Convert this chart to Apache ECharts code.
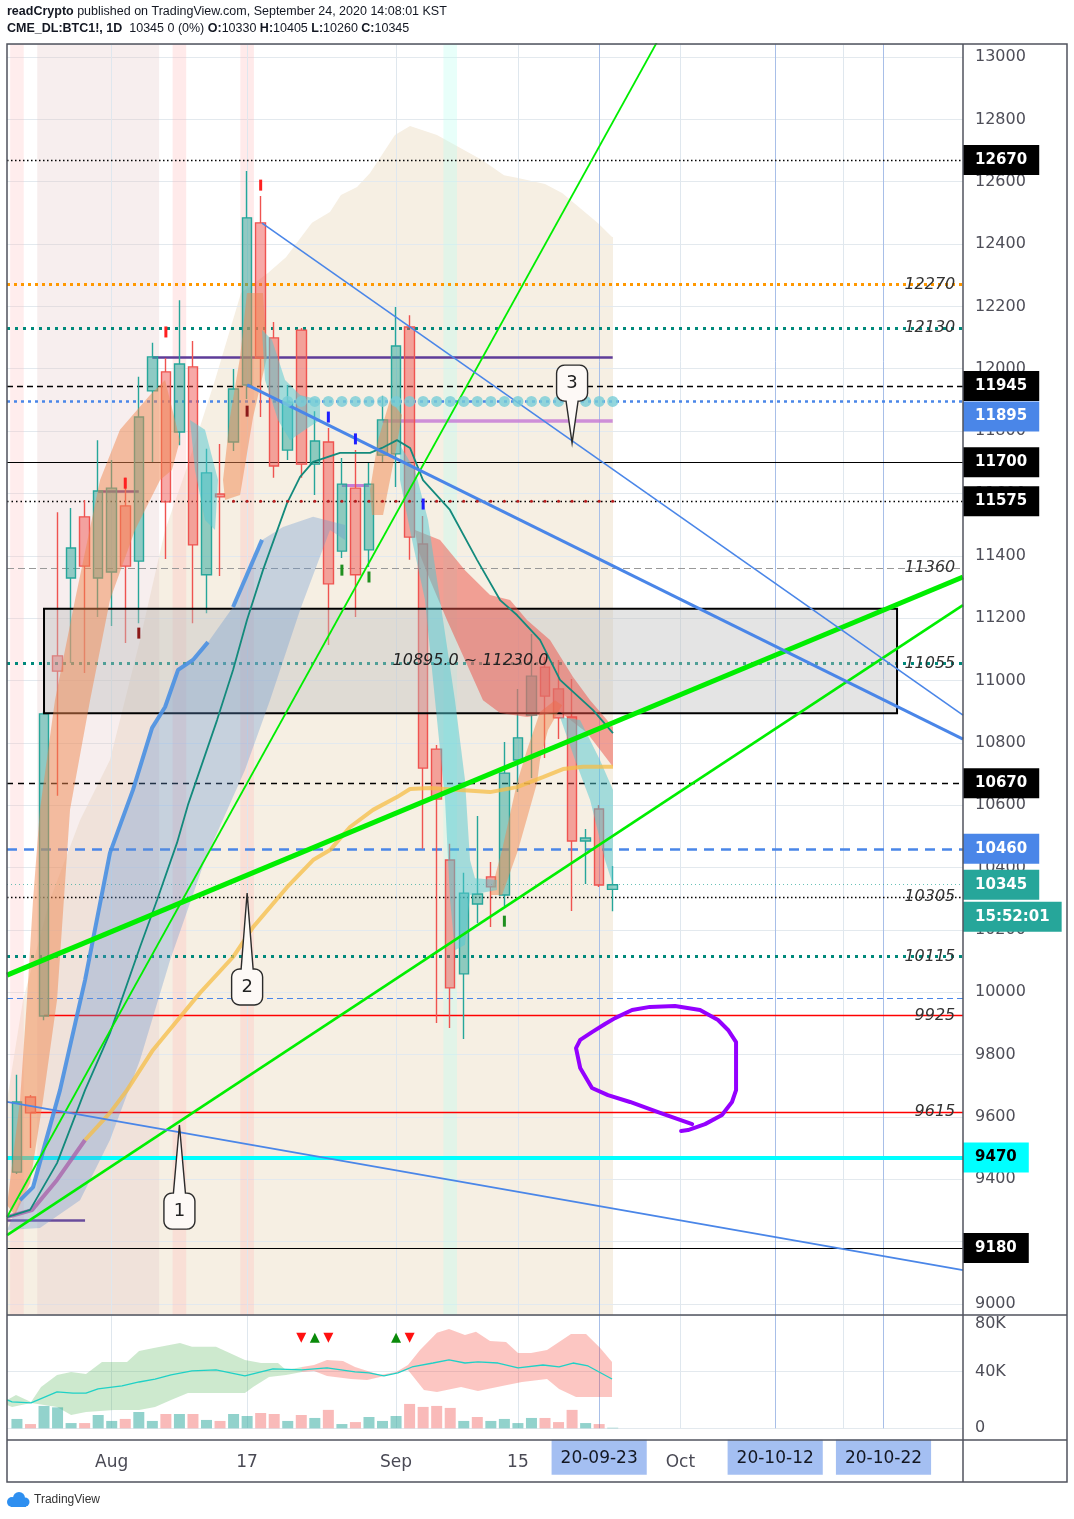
<!DOCTYPE html>
<html><head><meta charset="utf-8">
<script src="https://cdn.jsdelivr.net/npm/echarts@6/dist/echarts.min.js"></script>
<style>html,body{margin:0;padding:0;background:#fff}#c{width:1074px;height:1519px}</style>
</head><body><div id="c"></div>
<script>
// ---------------- DATA ----------------
const dates = ['2020-07-23','2020-07-24','2020-07-27','2020-07-28','2020-07-29','2020-07-30','2020-07-31','2020-08-03','2020-08-04','2020-08-05','2020-08-06','2020-08-07','2020-08-10','2020-08-11','2020-08-12','2020-08-13','2020-08-14','2020-08-17','2020-08-18','2020-08-19','2020-08-20','2020-08-21','2020-08-24','2020-08-25','2020-08-26','2020-08-27','2020-08-28','2020-08-31','2020-09-01','2020-09-02','2020-09-03','2020-09-04','2020-09-08','2020-09-09','2020-09-10','2020-09-11','2020-09-14','2020-09-15','2020-09-16','2020-09-17','2020-09-18','2020-09-21','2020-09-22','2020-09-23','2020-09-24'];
const opens  = [9423,9664,9924,11079,11329,11525,11329,11348,11560,11383,11929,11990,11797,12006,11339,11598,11765,11948,12468,12099,11739,12124,11694,11765,11415,11617,11419,11723,11727,12134,11438,10780,10424,10059,10283,10370,10312,10745,10889,11043,10973,10883,10485,10588,10330];
const closes = [9648,9613,10893,11030,11425,11367,11608,11617,11367,11845,12038,11573,12015,11435,11666,11589,11935,12484,12034,11688,11893,11694,11768,11310,11630,11339,11630,11836,12073,11460,10719,10620,10014,10318,10315,10338,10703,10816,11014,10950,10880,10485,10495,10344,10345];
const lows   = [9417,9500,9910,10630,11056,11024,11204,11175,11120,11184,11701,11390,11755,11184,11216,11335,11736,11903,11845,11650,11707,11650,11595,11114,11393,11204,11364,11701,11621,11387,10460,9901,9885,9850,10222,10209,10277,10642,10687,10751,10812,10261,10347,10338,10260];
const highs  = [9735,9670,10900,11540,11553,11579,11771,11707,11650,11974,12083,12034,12220,12089,11743,11759,11999,12634,12554,12150,11948,12131,11864,11810,11714,11739,11698,11913,12198,12172,11528,10793,10476,10383,10565,10418,10803,10973,11149,11075,11066,11005,10524,10601,10405];
const volumesK = [6.6,3.0,15.8,14.8,3.7,3.7,9.4,5.2,6.6,11.5,5.2,10.1,10.1,10.1,5.9,5.2,10.1,8.7,10.8,10.1,5.2,9.4,7.3,13.0,3.0,4.4,8.0,5.2,8.7,17.2,15.1,15.8,14.4,5.2,8.0,5.2,6.6,3.7,7.3,7.3,4.4,13.0,3.7,3.0,0.4];

const xLabelIdx  = [7,17,28,37,43,49,56,64];
const xLabelText = ['Aug','17','Sep','15','20-09-23','Oct','20-10-12','20-10-22'];
const highlightIdx = [43,56,64];
const vGridIdx = [7,17,28,37,49,61];
const vBlueIdx = [43,56,64];

const levelValues = [12670,12270,12130,11945,11895,11700,11575,11360,11055,10670,10460,10345,10305,10115,9981,9470,9180];
const segLevels = [[10,44,12038],[27,44,11832],[24,26,11627],[6,9,11608],[-0.73,5.03,9268],[2,69.871,9925],[1,69.871,9615]];
const tagLevels = [12670,11945,11895,11700,11575,10670,10460,10345,9470,9180];
const countdownText = '15:52:01';
const italicLevels = [12270,12130,11360,11055,10305,10115,9925,9615];
const zoneLow = 10895, zoneHigh = 11230, zoneFrom = 2, zoneTo = 65;

const trendLines = [
  [[-0.73,9279],[47.3,13050]],
  [[-0.73,9221],[69.871,11242]],
  [[-0.73,10055],[69.871,11332]],
  [[17,11948],[69.871,10812]],
  [[18.1,12467],[69.871,10889]],
  [[-0.73,9648],[69.871,9109]]
];

const beigePoly = [[-0.734,8964.7],[-0.73,9654],[0.45,9975],[2.44,10296],[4.66,10552],[6.87,10745],[9.09,11130],[10.94,11482],[12.49,11675],[14.63,11964],[16.55,12243],[18.54,12307],[19.87,12358],[21.79,12468],[23.12,12503],[23.93,12557],[25.12,12583],[26.08,12628],[27.92,12750],[29.03,12779],[31.02,12750],[32.35,12718],[34.35,12670],[35.97,12621],[37.01,12612],[39.0,12593],[40.26,12564],[42.92,12467],[43.95,12423],[44.02,12423],[44.02,8964.7]];
const bandRanges = [[-0.5,0.5],[1.5,10.5],[11.5,12.5],[16.5,17.5],[31.5,32.5]];

const orangePolys = [
  [[-0.73,9317],[0.23,9654],[0.74,9975],[1.19,10296],[1.70,10585],[2.81,10937],[4.29,11258],[6.14,11643],[7.61,11804],[9.83,11916],[10.94,11964],[12.04,11771],[11.45,11675],[10.57,11643],[8.72,11483],[6.87,11258],[5.40,10937],[3.92,10585],[2.96,9975],[1.93,9654],[0.97,9388],[-0.14,9285]],
  [[16.99,12243],[18.17,12243],[18.47,12038],[17.44,11845],[16.48,11595],[15.37,11579],[15.22,11643],[15.74,11845],[16.48,12038]],
  [[27.55,11900],[28.44,11852],[27.92,11723],[27.04,11531],[26.22,11531],[26.08,11611],[26.67,11771]],
  [[34.94,10312],[35.83,10456],[36.93,10671],[37.67,10777],[38.63,10899],[39.74,10937],[40.26,10921],[39.22,10841],[38.63,10745],[38.41,10671],[37.01,10456],[35.83,10312]]
];
const cyanPolys = [
  [[12.78,11836],[13.89,11804],[14.85,11643],[14.63,11483],[13.89,11515],[13.15,11675]],
  [[18.1,12124],[18.84,12092],[19.8,11964],[20.91,11916],[22.38,11900],[22.38,11836],[21.28,11804],[20.17,11771],[19.28,11836],[18.32,11964]],
  [[28.29,11755],[29.4,11675],[30.36,11515],[31.25,11258],[32.35,10937],[33.09,10681],[33.46,10424],[33.83,10366],[35.46,10360],[35.46,10328],[33.46,10312],[33.09,10152],[32.35,10135],[31.99,10296],[31.62,10617],[30.88,10937],[30.14,11258],[29.18,11451],[28.29,11643]],
  [[40.11,10883],[41.59,10873],[43.06,10745],[44.02,10649],[44.02,10344],[43.43,10424],[42.33,10617],[41.22,10745]]
];
const redPolys = [
  [[29.4,11483],[31.25,11451],[33.09,11354],[34.94,11274],[36.42,11258],[37.67,11194],[39.37,11130],[41.07,11011],[42.33,10937],[44.02,10851],[44.02,10723],[42.1,10832],[40.11,10899],[37.67,10883],[35.68,10896],[34.42,10937],[33.09,11066],[31.76,11194],[30.51,11322],[29.62,11419]]
];
const bluePolys = [
  [[0.23,9333],[1.19,9375],[3.18,9686],[5.03,10039],[6.87,10447],[8.57,10649],[9.98,10848],[10.94,10915],[11.9,11034],[13.0,11066],[14.11,11123],[15.96,11236],[18.1,11451],[19.65,11492],[21.87,11525],[24.23,11499],[24.23,11451],[23.12,11483],[20.91,11226],[18.69,10937],[16.84,10713],[13.89,10424],[11.31,10103],[9.09,9783],[6.87,9526],[4.66,9333],[1.7,9244],[-0.73,9237]]
];
const blueEdgeA = [[0.23,9333],[1.19,9375],[3.18,9686],[5.03,10039],[6.87,10447],[8.57,10649],[9.98,10848],[10.94,10915],[11.9,11034],[13.0,11066],[14.11,11123]];
const blueEdgeB = [[15.96,11236],[18.1,11451]];
const tealMA = [[-0.73,9279],[0.97,9302],[2.96,9452],[5.03,9686],[6.87,9869],[9.09,10145],[10.35,10296],[11.82,10479],[12.63,10601],[14.78,10873],[15.96,11034],[16.99,11194],[18.17,11354],[19.95,11569],[20.91,11653],[21.87,11701],[23.86,11730],[26.08,11730],[26.96,11746],[28.07,11771],[29.03,11746],[29.99,11643],[31.98,11547],[33.98,11387],[35.68,11258],[36.93,11210],[38.63,11130],[40.11,11002],[42.55,10905],[44.02,10831]];
const yellowMA = [[5.03,9526],[6.87,9613],[8.13,9686],[10.05,9815],[12.04,9920],[13.52,9998],[15.96,10113],[17.44,10209],[19.95,10337],[21.87,10424],[23.12,10456],[24.6,10530],[26.3,10585],[28.07,10626],[29.03,10652],[30.51,10655],[34.94,10642],[36.93,10658],[38.85,10690],[40.33,10716],[41.81,10723],[44.02,10723]];
const magentaMA = [[-0.73,9279],[1.11,9301],[2.96,9398],[5.03,9526]];

const cyanDotIdx = [20,21,22,23,24,25,26,27,28,29,30,31,32,33,34,35,36,37,38,39,40,41,42,43,44];
const cyanDotLevel = 11895;
const redDotIdx = [16,17,18,19,20,21,22,23,24,25,26,27,28,29,30,31,32,33,34,35,36,37,38,39,40,41,42,43,44];
const redDotLevel = 11575;
const fractalPts = [[18,12589],[11,12118],[8,11633],[17,11864],[9,11152],[23,11845],[25,11775],[30,11566],[24,11354],[26,11332],[36,10228]];
const fractalKind = ['r','r','r','d','d','b','b','b','g','g','g'];

const calloutPts = [[12,9574,9298],[17,10318,10017],[41,11762,11954]];
const calloutLabels = ['1','2','3'];
const loopPts = [[49.87,9577],[47.5,9613],[45.28,9648],[43.65,9670],[42.47,9693],[41.6,9757],[41.29,9821],[41.6,9847],[42.47,9872],[43.43,9898],[44.17,9917],[45.43,9943],[46.75,9953],[48.6,9956],[50.45,9943],[51.78,9911],[52.52,9879],[53.11,9840],[53.11,9686],[52.81,9648],[52.07,9606],[50.82,9577],[49.56,9558],[49.05,9555]];

const volLine = [[-0.73,20.0],[-0.36,18.6],[1.04,17.9],[2.96,25.7],[4.14,24.9],[5.1,24.9],[5.99,27.8],[7.76,29.9],[9.02,32.7],[10.2,34.8],[11.38,37.7],[12.93,40.5],[14.7,41.2],[16.84,37.0],[18.91,41.9],[21.05,41.2],[22.9,42.6],[24.97,39.8],[26.0,39.1],[27.11,37.0],[28.14,39.1],[29.18,43.3],[30.73,46.1],[31.91,48.3],[33.09,46.1],[34.05,46.9],[35.53,46.1],[37.01,42.6],[38.85,44.7],[40.04,43.3],[41.07,46.1],[42.18,44.0],[43.95,34.8]];
const volGreenCloud = [[-0.73,20.0],[-0.07,23.6],[1.04,18.6],[1.78,29.2],[2.96,37.7],[4.0,39.8],[5.1,38.4],[6.28,46.9],[8.13,46.9],[9.02,54.6],[10.2,56.8],[12.04,60.3],[12.93,57.5],[14.7,57.5],[16.84,48.3],[18.03,46.1],[19.28,46.1],[19.87,41.2],[21.05,43.3],[21.05,39.8],[19.87,37.7],[18.62,36.3],[17.44,29.2],[16.84,24.9],[14.41,24.9],[12.63,24.9],[11.38,20.0],[10.2,15.1],[9.02,12.9],[7.17,12.9],[5.1,11.5],[4.0,9.4],[2.96,15.1],[1.04,17.9],[-0.36,15.1],[-0.73,16.5]];
const volRedCloud = [[21.05,43.3],[21.94,44.7],[22.9,48.3],[24.08,47.6],[24.97,43.3],[26.82,37.7],[28.0,39.8],[28.88,44.7],[29.77,55.3],[31.02,67.4],[31.91,70.2],[33.09,65.9],[33.9,68.1],[34.94,61.7],[36.12,61.0],[37.01,53.2],[37.97,53.2],[39.15,55.3],[40.92,66.6],[42.03,66.6],[43.06,56.8],[43.95,46.9],[43.95,22.1],[42.77,22.1],[41.29,22.1],[40.04,27.8],[39.15,34.8],[37.3,32.7],[35.83,29.9],[34.05,26.4],[32.8,29.2],[31.02,25.7],[30.06,27.1],[28.88,41.2],[28.0,39.1],[26.82,36.3],[25.86,34.1],[24.67,34.8],[22.9,37.0],[21.94,40.5],[21.05,39.8]];
const triUpIdx = [22,28];
const triDownIdx = [21,23,29];
const triLevel = 64;

// ---------------- STYLE / LAYOUT ----------------
const X_MIN = -0.734, X_MAX = 69.871, Y_MIN = 8964.7, Y_MAX = 13041.7;
const X_TAG = 69.8, X_ITALIC = 69.45;
const FONT = 'DejaVu Sans';
const UP = '#26a69a', DN = '#ef5350';
const levelStyles = [
  {color:'#000', width:1.3, type:[1.5,2.5]},
  {color:'#ff9800', width:3, type:[3,4]},
  {color:'#00897b', width:3, type:[3,5]},
  {color:'#000', width:1.3, type:[6,4]},
  {color:'#4a86e8', width:2.5, type:[3,4]},
  {color:'#000', width:1.2, type:'solid'},
  {color:'#000', width:1.3, type:[1.5,3]},
  {color:'#999', width:1.2, type:[7,4]},
  {color:'#00897b', width:3, type:[3,5]},
  {color:'#000', width:1.3, type:[6,5]},
  {color:'#4a86e8', width:2.5, type:[10,7]},
  {color:'#26a69a', width:1, type:[1,3], opacity:0.7},
  {color:'#000', width:1.3, type:[1.5,2.5]},
  {color:'#00897b', width:3, type:[3,5]},
  {color:'#4a86e8', width:1, type:[6,4]},
  {color:'#00ffff', width:4, type:'solid'},
  {color:'#000', width:1.2, type:'solid'}
];
const segStyles = [
  {color:'#5e3c99', width:2.5},
  {color:'#c77dd6', width:3.5, opacity:0.85},
  {color:'#c77dd6', width:3},
  {color:'#5e3c99', width:2.5},
  {color:'#6a4c9c', width:2.5},
  {color:'#ff0000', width:1.3},
  {color:'#ff0000', width:1.3}
];
const tagBg = ['#000','#000','#4a86e8','#000','#000','#000','#4a86e8','#26a69a','#00ffff','#000','#26a69a'];
const tagFg = ['#fff','#fff','#fff','#fff','#fff','#fff','#fff','#fff','#000','#fff','#fff'];
const tagShift = [0,0,15,0,0,0,0,0,0,0,32];
const trendStyles = [
  {color:'#00ee00', width:1.8},
  {color:'#00ee00', width:2.6},
  {color:'#00ee00', width:5},
  {color:'#4a86e8', width:3},
  {color:'#4a86e8', width:1.6},
  {color:'#4a86e8', width:1.8}
];
const fractalColor = {r:'#ff2020', d:'#8b1a1a', b:'#1e1eff', g:'#1f8f1f'};

function polySeries(polys, fill, gi, z) {
  return {type:'custom', xAxisIndex:gi, yAxisIndex:gi, z:z, silent:true, clip:true,
    data: polys.map(p => p[0]),
    renderItem: (params, api) => ({type:'polygon',
      shape:{points: polys[params.dataIndex].map(pt => api.coord(pt))}, style:{fill:fill}})};
}
function lineSeries(data, style, gi, z) {
  return {type:'line', xAxisIndex:gi, yAxisIndex:gi, data:data, z:z, symbol:'none', silent:true,
    clip:true, lineStyle:style};
}

const series = [];
series.push(polySeries([beigePoly], '#f6efe3', 0, 0));
const bandColors = ['rgba(255,190,190,0.28)','rgba(225,195,195,0.28)','rgba(255,185,185,0.3)','rgba(255,185,185,0.3)','rgba(190,255,240,0.35)'];
series.push({type:'line', xAxisIndex:0, yAxisIndex:0, data:[], z:1, silent:true,
  markArea:{silent:true, z:1, data: bandRanges.map((r,i)=>[{xAxis:r[0], itemStyle:{color:bandColors[i]}},{xAxis:r[1]}])},
  markLine:{silent:true, z:1, symbol:'none', label:{show:false},
    data: vGridIdx.map(v=>({xAxis:v, lineStyle:{color:'#dfe7ee', width:1, type:'solid'}}))
      .concat(vBlueIdx.map(v=>({xAxis:v, lineStyle:{color:'#a8bfe8', width:1, type:'solid'}})))}
});
series.push({type:'line', xAxisIndex:0, yAxisIndex:0, data:[], z:2, silent:true,
  markLine:{silent:true, z:2, symbol:'none', label:{show:false},
    data: levelValues.map((v,i)=>({yAxis:v, lineStyle:levelStyles[i]}))
      .concat(segLevels.map((s,i)=>[{coord:[s[0],s[2]], lineStyle:Object.assign({type:'solid'}, segStyles[i])},{coord:[s[1],s[2]]}]))}
});
series.push({type:'candlestick', xAxisIndex:0, yAxisIndex:0, z:3, barWidth:10, silent:true,
  data: dates.map((d,i)=>[i, opens[i], closes[i], lows[i], highs[i]]),
  itemStyle:{color:'rgba(38,166,154,0.5)', color0:'rgba(239,83,80,0.5)', borderColor:UP, borderColor0:DN, borderWidth:1.4}});
series.push({type:'line', xAxisIndex:0, yAxisIndex:0, data:[], z:4, silent:true,
  markArea:{silent:true, z:4, data:[[{coord:[zoneFrom, zoneHigh]},{coord:[zoneTo, zoneLow]}]],
    itemStyle:{color:'rgba(190,190,190,0.42)', borderColor:'#000', borderWidth:2}, label:{show:false}}});
series.push(polySeries(bluePolys, 'rgba(100,150,210,0.33)', 0, 5));
series.push(polySeries(orangePolys, 'rgba(240,135,80,0.5)', 0, 5));
series.push(polySeries(redPolys, 'rgba(235,80,70,0.5)', 0, 5));
series.push(polySeries(cyanPolys, 'rgba(80,200,210,0.5)', 0, 5));
series.push(lineSeries(magentaMA, {color:'rgba(165,85,165,0.7)', width:4}, 0, 6));
series.push(lineSeries(yellowMA, {color:'rgba(246,190,70,0.75)', width:4}, 0, 6));
series.push(lineSeries(tealMA, {color:'#138a7c', width:1.8}, 0, 6));
series.push(lineSeries(blueEdgeA, {color:'rgba(74,144,226,0.9)', width:4}, 0, 6));
series.push(lineSeries(blueEdgeB, {color:'rgba(74,144,226,0.9)', width:4}, 0, 6));
trendLines.forEach((t,i)=>series.push(lineSeries(t, trendStyles[i], 0, 7)));
series.push(lineSeries(loopPts, {color:'#9400ff', width:4, cap:'round', join:'round'}, 0, 7));
series.push({type:'scatter', xAxisIndex:0, yAxisIndex:0, z:7, silent:true, symbolSize:11,
  itemStyle:{color:'rgba(120,205,215,0.8)', opacity:1}, data: cyanDotIdx.map(i=>[i, cyanDotLevel])});
series.push({type:'scatter', xAxisIndex:0, yAxisIndex:0, z:7, silent:true, symbolSize:3,
  itemStyle:{color:'#b71c1c', opacity:1}, data: redDotIdx.map(i=>[i, redDotLevel])});
series.push({type:'scatter', xAxisIndex:0, yAxisIndex:0, z:7, silent:true, symbol:'rect', symbolSize:[3,11],
  data: fractalPts.map((p,i)=>({value:p, itemStyle:{color:fractalColor[fractalKind[i]], opacity:1}}))});
series.push({type:'scatter', xAxisIndex:0, yAxisIndex:0, z:8, silent:true, symbolSize:0, itemStyle:{opacity:1},
  data:[[(zoneFrom+zoneTo)/2, (zoneLow+zoneHigh)/2]],
  label:{show:true, position:'inside', formatter: zoneLow.toFixed(1)+' ~ '+zoneHigh.toFixed(1),
    fontStyle:'italic', fontSize:16, fontFamily:FONT, color:'#222'}});
series.push({type:'custom', xAxisIndex:0, yAxisIndex:0, z:9, silent:true, clip:false, data: calloutPts,
  renderItem: function(params, api){
    const c = calloutPts[params.dataIndex];
    const tip = api.coord([c[0], c[1]]), ctr = api.coord([c[0], c[2]]);
    const w = 31, h = 36, r = 8, hw = 6;
    const x0 = ctr[0]-w/2, x1 = ctr[0]+w/2, y0 = ctr[1]-h/2, y1 = ctr[1]+h/2;
    const down = ctr[1] > tip[1];
    const pts = [];
    const arc = (cx, cy, a0, a1) => { for (let k = 0; k <= 5; k++) { const a = a0 + (a1-a0)*k/5; pts.push([cx + r*Math.cos(a), cy + r*Math.sin(a)]); } };
    if (down) pts.push([ctr[0]-hw, y0], [tip[0], tip[1]], [ctr[0]+hw, y0]);
    arc(x1-r, y0+r, -Math.PI/2, 0);
    arc(x1-r, y1-r, 0, Math.PI/2);
    if (!down) pts.push([ctr[0]+hw, y1], [tip[0], tip[1]], [ctr[0]-hw, y1]);
    arc(x0+r, y1-r, Math.PI/2, Math.PI);
    arc(x0+r, y0+r, Math.PI, Math.PI*1.5);
    return {type:'group', children:[
      {type:'polygon', shape:{points:pts}, style:{fill:'#fdf9f6', stroke:'#2b2b2b', lineWidth:1.4}},
      {type:'text', x:ctr[0], y:ctr[1], style:{text:calloutLabels[params.dataIndex], align:'center', verticalAlign:'middle', fontSize:18, fontFamily:FONT, fill:'#222'}}
    ]};
  }});
series.push({type:'scatter', xAxisIndex:0, yAxisIndex:0, z:9, silent:true, symbolSize:0, itemStyle:{opacity:1},
  data: italicLevels.map(v=>[X_ITALIC, v]),
  label:{show:true, position:'left', distance:2, formatter: p=>String(p.value[1]),
    fontStyle:'italic', fontSize:16, fontFamily:FONT, color:'#333'}});
const tagTexts = tagLevels.map(String).concat([countdownText]);
const tagVals = tagLevels.concat([10345]);
series.push({type:'scatter', xAxisIndex:0, yAxisIndex:0, z:10, silent:true, symbolSize:0, itemStyle:{opacity:1},
  data: tagVals.map((v,i)=>({value:[X_TAG, v], label:{backgroundColor:tagBg[i], color:tagFg[i], offset:[0, tagShift[i]]}})),
  label:{show:true, position:'right', distance:1, formatter: p=>tagTexts[p.dataIndex],
    fontWeight:'bold', fontSize:15, fontFamily:FONT, padding:[7,12,7,12], lineHeight:16}});

// ---------- volume pane ----------
series.push({type:'line', xAxisIndex:1, yAxisIndex:1, data:[], z:1, silent:true,
  markLine:{silent:true, z:1, symbol:'none', label:{show:false},
    data: vGridIdx.map(v=>({xAxis:v, lineStyle:{color:'#dfe7ee', width:1, type:'solid'}}))
      .concat(vBlueIdx.map(v=>({xAxis:v, lineStyle:{color:'#a8bfe8', width:1, type:'solid'}})))}});
series.push(polySeries([volGreenCloud], 'rgba(76,175,80,0.28)', 1, 2));
series.push(polySeries([volRedCloud], 'rgba(244,67,54,0.3)', 1, 2));
series.push({type:'bar', xAxisIndex:1, yAxisIndex:1, z:3, barWidth:11, silent:true,
  data: volumesK.map((v,i)=>({value:[i,v], itemStyle:{color:(i===0 || closes[i]>=closes[i-1]) ? 'rgba(38,166,154,0.5)' : 'rgba(239,83,80,0.4)'}}))});
series.push(lineSeries(volLine, {color:'#1fd1c6', width:1.3}, 1, 4));
series.push({type:'scatter', xAxisIndex:1, yAxisIndex:1, z:5, silent:true, symbol:'triangle', symbolSize:10,
  itemStyle:{color:'#0a8a0a', opacity:1}, data: triUpIdx.map(i=>[i, triLevel])});
series.push({type:'scatter', xAxisIndex:1, yAxisIndex:1, z:5, silent:true, symbol:'triangle', symbolSize:10, symbolRotate:180,
  itemStyle:{color:'#ff1010', opacity:1}, data: triDownIdx.map(i=>[i, triLevel])});

const axisLabelCommon = {fontSize:16, fontFamily:FONT, color:'#4e4e58', margin:12};
const option = {
  animation:false,
  backgroundColor:'#fff',
  title:[
    {left:7, top:5, padding:0, text:'{b|readCrypto} published on TradingView.com, September 24, 2020 14:08:01 KST',
      textStyle:{fontFamily:'Liberation Sans', fontSize:12.5, fontWeight:'normal', color:'#131722',
        rich:{b:{fontFamily:'Liberation Sans', fontSize:12.5, fontWeight:'bold', color:'#131722'}}}},
    {left:7, top:22, padding:0, text:'{b|CME_DL:BTC1!, 1D}  10345 0 (0%) {b|O:}10330 {b|H:}10405 {b|L:}10260 {b|C:}10345',
      textStyle:{fontFamily:'Liberation Sans', fontSize:12.5, fontWeight:'normal', color:'#131722',
        rich:{b:{fontFamily:'Liberation Sans', fontSize:12.5, fontWeight:'bold', color:'#131722'}}}}
  ],
  grid:[
    {left:7, top:44, width:956, height:1271},
    {left:7, top:1315, width:956, height:113.3}
  ],
  xAxis:[
    {gridIndex:0, type:'value', min:X_MIN, max:X_MAX, show:false},
    {gridIndex:1, type:'value', min:X_MIN, max:X_MAX,
      axisLine:{show:false}, splitLine:{show:false}, axisTick:{show:false},
      axisLabel:{show:true, customValues:xLabelIdx, margin:20,
        formatter: v => { const k = xLabelIdx.indexOf(Math.round(v)); if (k < 0) return ''; const t = xLabelText[k];
          return highlightIdx.indexOf(xLabelIdx[k]) >= 0 ? '{h|'+t+'}' : '{n|'+t+'}'; },
        rich:{n:{fontSize:17, fontFamily:FONT, color:'#4a4a55', lineHeight:18, padding:[14,0,4,0]},
              h:{fontSize:17, fontFamily:FONT, color:'#131722', lineHeight:18, backgroundColor:'#a4bff2', padding:[10,9,8,9]}}}}
  ],
  yAxis:[
    {gridIndex:0, type:'value', position:'right', min:Y_MIN, max:Y_MAX, splitNumber:20, minInterval:200, maxInterval:200, z:1,
      axisLine:{show:false}, axisTick:{show:false},
      axisLabel:Object.assign({formatter: v => (Math.abs(v % 200) < 0.01 ? String(v) : '')}, axisLabelCommon),
      splitLine:{show:true, lineStyle:{color:'#e3e9ee', width:1}}},
    {gridIndex:1, type:'value', position:'right', min:0, max:80, interval:40, z:1,
      axisLine:{show:false}, axisTick:{show:false},
      axisLabel:Object.assign({formatter: v => (v === 0 ? '0' : (v === 80 ? '{t|80K}' : v + 'K')),
        rich:{t:{fontSize:16, fontFamily:FONT, color:'#4e4e58', padding:[18,0,0,0]}}}, axisLabelCommon),
      splitLine:{show:true, lineStyle:{color:'#e3e9ee', width:1}}}
  ],
  graphic:[
    {type:'rect', z:100, silent:true, shape:{x:7, y:44, width:1060, height:1438}, style:{fill:'none', stroke:'#50535e', lineWidth:1.5}},
    {type:'line', z:100, silent:true, shape:{x1:7, y1:1315, x2:1067, y2:1315}, style:{stroke:'#50535e', lineWidth:1.5}},
    {type:'line', z:100, silent:true, shape:{x1:7, y1:1440, x2:1067, y2:1440}, style:{stroke:'#50535e', lineWidth:1.5}},
    {type:'line', z:100, silent:true, shape:{x1:963, y1:44, x2:963, y2:1482}, style:{stroke:'#50535e', lineWidth:1.5}},
    {type:'group', left:7, top:1492, silent:true, children:[
      {type:'circle', shape:{cx:7, cy:11, r:5}, style:{fill:'#2e8ff0'}},
      {type:'circle', shape:{cx:14, cy:7, r:6}, style:{fill:'#2e8ff0'}},
      {type:'circle', shape:{cx:20, cy:11, r:4.5}, style:{fill:'#2e8ff0'}},
      {type:'rect', shape:{x:6, y:10, width:15, height:6}, style:{fill:'#2e8ff0'}}
    ]},
    {type:'text', left:34, top:1494, silent:true, style:{text:'TradingView', fontSize:12, fontFamily:'Liberation Sans', fill:'#333'}}
  ],
  series: series
};
const chart = echarts.init(document.getElementById('c'));
chart.setOption(option);
</script>
</body></html>
